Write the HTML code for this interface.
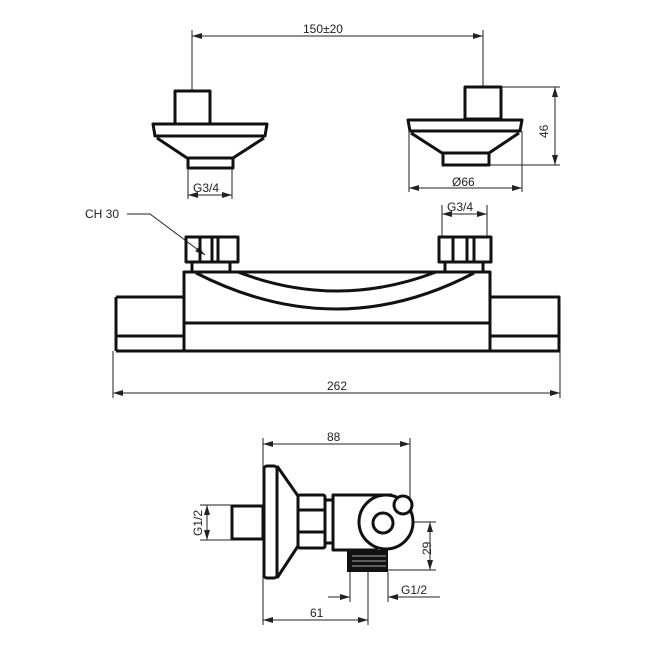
<!DOCTYPE html><html><head><style>body{margin:0;background:#fff}svg{display:block}text{font-family:"Liberation Sans",sans-serif;font-size:12px;fill:#222}</style></head><body>
<svg width="650" height="650" viewBox="0 0 650 650" xmlns="http://www.w3.org/2000/svg">
<defs><marker id="a" viewBox="0 0 10 6" refX="10" refY="3" markerWidth="10" markerHeight="6" orient="auto-start-reverse" markerUnits="userSpaceOnUse"><path d="M0,0L10,3L0,6z" fill="#222"/></marker></defs>
<g fill="none" stroke="#222" stroke-width="1">
<!-- top dims -->
<line x1="192" y1="36" x2="483" y2="36" marker-start="url(#a)" marker-end="url(#a)"/>
<line x1="192" y1="30" x2="192" y2="90"/><line x1="483" y1="30" x2="483" y2="86"/>
<line x1="501" y1="87" x2="560" y2="87"/><line x1="489" y1="165" x2="560" y2="165"/>
<line x1="555" y1="87" x2="555" y2="165" marker-start="url(#a)" marker-end="url(#a)"/>
<line x1="409" y1="131" x2="409" y2="192"/><line x1="522" y1="131" x2="522" y2="192"/>
<line x1="409" y1="188" x2="522" y2="188" marker-start="url(#a)" marker-end="url(#a)"/>
<line x1="188" y1="168" x2="188" y2="199"/><line x1="232" y1="168" x2="232" y2="199"/>
<line x1="188" y1="195" x2="232" y2="195" marker-start="url(#a)" marker-end="url(#a)"/>
<line x1="442" y1="205" x2="442" y2="238"/><line x1="487" y1="205" x2="487" y2="238"/>
<line x1="442" y1="214" x2="487" y2="214" marker-start="url(#a)" marker-end="url(#a)"/>
<polyline points="127,214 150,214 205,255" marker-end="url(#a)"/>
<line x1="113" y1="351" x2="113" y2="398"/><line x1="560" y1="351" x2="560" y2="398"/>
<line x1="113" y1="393" x2="560" y2="393" marker-start="url(#a)" marker-end="url(#a)"/>
<!-- bottom dims -->
<line x1="263" y1="438" x2="263" y2="625"/><line x1="410" y1="438" x2="410" y2="500"/>
<line x1="263" y1="444" x2="410" y2="444" marker-start="url(#a)" marker-end="url(#a)"/>
<line x1="200" y1="505" x2="231" y2="505"/><line x1="200" y1="540" x2="231" y2="540"/>
<line x1="207" y1="505" x2="207" y2="540" marker-start="url(#a)" marker-end="url(#a)"/>
<line x1="412" y1="522" x2="436" y2="522"/><line x1="388" y1="570" x2="436" y2="570"/>
<line x1="430" y1="522" x2="430" y2="570" marker-start="url(#a)" marker-end="url(#a)"/>
<line x1="350" y1="572" x2="350" y2="602"/><line x1="388" y1="572" x2="388" y2="602"/><line x1="368" y1="572" x2="368" y2="625"/>
<line x1="328" y1="597" x2="350" y2="597" marker-end="url(#a)"/><line x1="410" y1="597" x2="388" y2="597" marker-end="url(#a)"/><line x1="388" y1="597" x2="440" y2="597"/>
<line x1="263" y1="620" x2="368" y2="620" marker-start="url(#a)" marker-end="url(#a)"/>
</g>
<g fill="none" stroke="#111" stroke-width="3" stroke-linejoin="round">
<!-- top left fitting -->
<rect x="175" y="91" width="35" height="33"/>
<path d="M153,124H267L265,136H155Z"/><line x1="155" y1="136" x2="265" y2="136"/>
<path d="M157,138L187,158H233L264,138"/><rect x="188" y="158" width="45" height="10"/>
<!-- top right fitting -->
<rect x="465" y="87" width="36" height="32"/>
<path d="M408,120H522L520,131H410Z"/>
<path d="M411,133L442,153H489L519,133"/><rect x="443" y="153" width="46" height="12"/>
<!-- main body -->
<rect x="184" y="272" width="306" height="79"/><line x1="184" y1="323" x2="490" y2="323"/>
<path d="M116,297H184M116,297V351M116,336H184M116,351H184"/>
<path d="M490,297H559V351M490,336H560M490,351H560"/>
<path d="M196,273Q337,345 474,273"/><path d="M238,272Q337,310 436,272"/>
<rect x="186" y="237" width="52" height="25"/><line x1="200" y1="237" x2="200" y2="262"/><line x1="212" y1="237" x2="212" y2="262"/><line x1="218" y1="237" x2="218" y2="262"/>
<rect x="439" y="237" width="52" height="25"/><line x1="453" y1="237" x2="453" y2="262"/><line x1="467" y1="237" x2="467" y2="262"/><line x1="474" y1="237" x2="474" y2="262"/>
<path d="M192,262V272M230,262V272M445,262V272M483,262V272"/>
<!-- bottom view -->
<rect x="232" y="506" width="31" height="33"/>
<rect x="264" y="466" width="13" height="112" rx="3"/>
<path d="M277,466L298,496V546L277,578"/>
<rect x="298" y="495" width="27" height="53" rx="2"/><line x1="298" y1="510" x2="325" y2="510"/><line x1="298" y1="532" x2="325" y2="532"/>
<path d="M325,500H333M325,543H333"/>
<path d="M392,495H333V550H378"/>
<circle cx="386" cy="522" r="27" fill="#fff"/>
<circle cx="383" cy="523" r="10"/>
<circle cx="403" cy="505" r="9" fill="#fff"/>
</g>
<rect x="347" y="550" width="41" height="22" fill="#111"/>
<path d="M352,556H386M352,561H386M352,566H386" stroke="#aaa" stroke-width="1"/>
<g>
<text x="303" y="33">150±20</text>
<text x="452" y="186">Ø66</text>
<text x="193" y="192">G3/4</text>
<text x="447" y="211">G3/4</text>
<text x="85" y="218">CH 30</text>
<text x="327" y="390">262</text>
<text x="327" y="441">88</text>
<text x="310" y="617">61</text>
<text x="401" y="594">G1/2</text>
<text transform="translate(548,138) rotate(-90)">46</text>
<text transform="translate(202,536) rotate(-90)">G1/2</text>
<text transform="translate(431,555) rotate(-90)">29</text>
</g>
</svg></body></html>
